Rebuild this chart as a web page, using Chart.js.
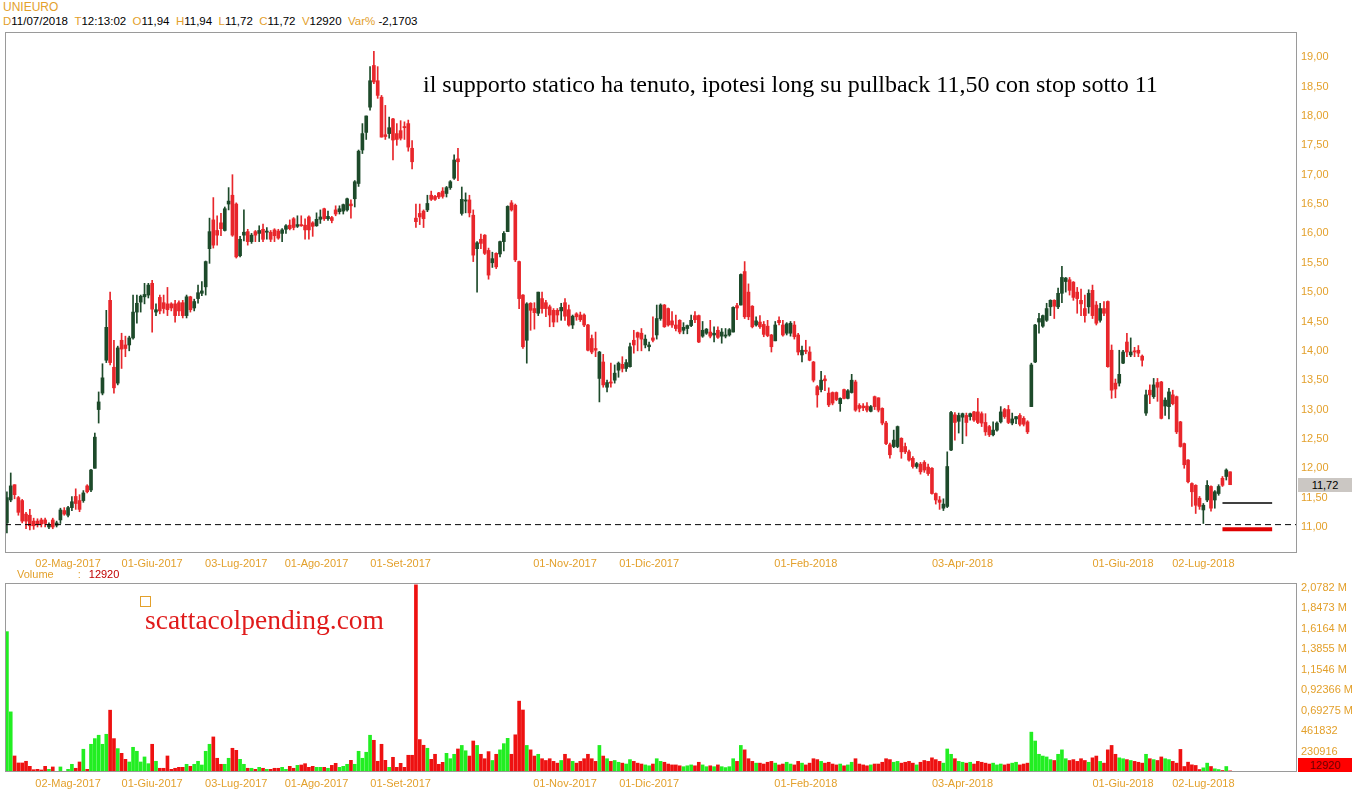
<!DOCTYPE html>
<html>
<head>
<meta charset="utf-8">
<script src="https://cdn.jsdelivr.net/npm/chart.js@4.4.1/dist/chart.umd.min.js"></script>
<style>
  body { margin: 0; background: #fff; width: 1352px; height: 800px; overflow: hidden; position: relative; font-family: Arial, "Liberation Sans", sans-serif; }
  canvas { position: absolute; left: 0; }
  .lbl { position: absolute; white-space: nowrap; }
  .or { color: #e3a02b; }
  .bk { color: #000; }
</style>
</head>
<body>
<div class="lbl or" style="left:3px;top:0px;font-size:12px;">UNIEURO</div>
<div class="lbl" style="left:3px;top:15px;font-size:11.5px;">
  <span class="or">D</span><span class="bk">11/07/2018</span>&nbsp;&nbsp;<span class="or">T</span><span class="bk">12:13:02</span>&nbsp;&nbsp;<span class="or">O</span><span class="bk">11,94</span>&nbsp;&nbsp;<span class="or">H</span><span class="bk">11,94</span>&nbsp;&nbsp;<span class="or">L</span><span class="bk">11,72</span>&nbsp;&nbsp;<span class="or">C</span><span class="bk">11,72</span>&nbsp;&nbsp;<span class="or">V</span><span class="bk">12920</span>&nbsp;&nbsp;<span class="or">Var%</span>&nbsp;<span class="bk">-2,1703</span>
</div>

<canvas id="priceChart" width="1352" height="540" style="top:32px"></canvas>
<canvas id="volChart" width="1352" height="216" style="top:578px"></canvas>

<div class="lbl" style="left:423px;top:71px;font-family:'Liberation Serif','Times New Roman',serif;font-size:24px;color:#000;">il supporto statico ha tenuto, ipotesi long su pullback 11,50 con stop sotto 11</div>
<div class="lbl" style="left:17px;top:568px;font-size:11px;"><span class="or">Volume</span><span class="or" style="margin-left:24px">:</span><span style="color:#c00000;margin-left:8px">12920</span></div>
<div style="position:absolute;left:140px;top:596px;width:9px;height:9px;border:1px solid #e3a02b;"></div>
<div class="lbl" style="left:145px;top:604px;font-family:'Liberation Serif','Times New Roman',serif;font-size:27.5px;color:#e01b1b;">scattacolpending.com</div>
<div class="lbl" style="left:1298px;top:478px;width:54px;height:14px;background:#cbc7c3;color:#000;font-size:11px;line-height:14px;text-align:center;">11,72</div>
<div class="lbl" style="left:1298px;top:758px;width:54px;height:14px;background:#ff0000;color:#700000;font-size:11px;line-height:14px;text-align:center;">12920</div>

<script>
// daily candles, 5 Apr 2017 .. 11 Jul 2018
const openP = [
  11.07,11.46,11.72,11.50,11.45,11.22,11.20,11.10,11.10,11.12,
  11.12,11.00,11.12,11.03,11.12,11.28,11.20,11.33,11.52,11.45,
  11.45,11.70,11.63,12.00,13.00,13.28,13.84,14.86,13.72,13.45,
  14.18,14.10,14.10,14.22,14.66,14.83,14.92,14.95,15.15,14.66,
  14.91,14.82,14.80,14.80,14.80,14.82,14.82,14.60,14.92,14.73,
  14.89,14.98,15.09,15.74,16.23,16.05,16.18,16.05,16.50,16.65,
  16.50,15.62,15.97,16.03,15.86,16.03,16.00,16.07,16.02,16.02,
  16.06,16.04,16.00,16.07,16.14,16.25,16.12,16.15,16.14,16.28,
  16.18,16.13,16.24,16.42,16.25,16.27,16.40,16.37,16.38,16.40,
  16.50,16.59,16.85,17.42,17.72,18.15,18.86,18.60,18.32,17.68,
  17.70,17.95,17.70,17.75,17.82,17.87,17.45,16.26,16.34,16.38,
  16.40,16.65,16.63,16.69,16.72,16.68,16.78,16.94,17.27,16.34,
  16.55,16.57,16.31,15.74,15.90,15.97,15.71,15.50,15.66,15.65,
  15.86,16.03,16.52,16.48,15.52,14.95,14.18,14.81,14.72,14.64,
  14.89,14.82,14.75,14.69,14.69,14.68,14.82,14.70,14.44,14.63,
  14.61,14.61,14.44,14.21,14.04,13.53,13.81,13.38,13.47,13.50,
  13.67,13.77,13.70,13.73,14.18,14.31,14.30,14.10,14.07,14.22,
  14.27,14.55,14.78,14.72,14.51,14.44,14.52,14.35,14.38,14.43,
  14.60,14.60,14.25,14.30,14.32,14.27,14.35,14.25,14.25,14.27,
  14.32,14.77,14.78,15.35,15.00,14.76,14.44,14.49,14.45,14.42,
  14.27,14.17,14.52,14.44,14.30,14.30,14.44,14.27,13.93,14.01,
  13.98,13.81,13.39,13.34,13.52,13.28,13.29,13.29,13.10,13.34,
  13.19,13.29,13.47,13.07,13.06,13.06,12.97,13.22,13.20,13.02,
  12.77,12.40,12.37,12.37,12.51,12.37,12.28,12.17,12.03,12.07,
  12.10,12.02,12.00,11.57,11.46,11.32,11.35,12.31,12.91,12.80,
  12.87,12.90,12.88,12.96,12.96,12.93,12.78,12.71,12.57,12.65,
  12.79,13.00,13.00,12.77,12.84,12.90,12.85,12.79,13.05,13.81,
  14.49,14.42,14.52,14.75,14.86,14.75,14.98,15.18,15.21,15.17,
  15.00,14.86,14.72,14.75,15.03,14.78,14.52,14.72,14.84,14.01,
  13.45,13.45,13.79,14.15,13.93,14.00,14.01,13.91,12.94,13.33,
  13.22,13.46,13.47,13.06,13.05,13.25,13.22,12.79,12.42,12.14,
  11.74,11.71,11.49,11.29,11.46,11.69,11.46,11.57,11.83,11.86,
  11.94
];
const highP = [
  11.60,11.92,11.72,11.52,11.47,11.25,11.30,11.15,11.14,11.15,
  11.15,11.07,11.15,11.10,11.32,11.33,11.35,11.52,11.65,11.55,
  11.62,11.72,11.98,12.60,13.30,13.78,14.69,15.00,14.18,14.08,
  14.30,14.25,14.25,14.95,14.95,14.95,15.15,15.15,15.20,14.80,
  14.95,14.95,15.08,14.82,14.86,14.85,14.86,14.95,14.93,14.88,
  15.12,15.18,15.53,16.26,16.61,16.30,16.34,16.45,16.78,17.00,
  16.52,15.95,16.40,16.07,16.00,16.05,16.13,16.16,16.10,16.05,
  16.08,16.07,16.08,16.15,16.23,16.27,16.30,16.30,16.25,16.30,
  16.20,16.35,16.40,16.43,16.38,16.29,16.47,16.47,16.50,16.60,
  16.57,16.90,17.42,17.87,18.00,18.84,19.10,18.84,18.35,18.18,
  17.98,17.96,17.87,17.92,17.90,17.93,17.58,16.50,16.50,16.40,
  16.65,16.72,16.65,16.70,16.78,16.80,16.90,17.34,17.45,16.79,
  16.69,16.65,16.40,15.86,15.99,15.98,15.75,15.68,15.67,15.87,
  16.03,16.47,16.56,16.50,15.53,14.96,14.82,14.82,14.82,15.00,
  15.00,14.86,14.78,14.72,14.72,14.81,14.89,14.78,14.61,14.65,
  14.66,14.63,14.45,14.27,14.32,13.99,13.94,13.50,13.79,13.76,
  13.81,13.90,13.85,14.13,14.35,14.32,14.38,14.27,14.15,14.58,
  14.78,14.80,14.79,14.73,14.67,14.61,14.53,14.48,14.44,14.61,
  14.67,14.61,14.50,14.38,14.52,14.41,14.41,14.38,14.38,14.38,
  14.75,14.81,15.31,15.52,15.14,14.77,14.58,14.60,14.50,14.52,
  14.28,14.50,14.58,14.52,14.48,14.50,14.50,14.30,14.08,14.18,
  14.07,13.82,13.41,13.65,13.58,13.37,13.30,13.30,13.20,13.35,
  13.34,13.60,13.50,13.10,13.10,13.12,13.07,13.23,13.20,13.03,
  12.80,12.43,12.65,12.72,12.52,12.43,12.31,12.20,12.10,12.10,
  12.13,12.07,12.01,11.58,11.52,11.48,12.28,12.97,12.95,12.94,
  12.94,12.94,12.94,12.97,13.19,12.96,12.93,12.73,12.79,12.79,
  13.05,13.02,13.07,12.94,12.88,12.93,12.88,12.81,13.79,14.45,
  14.64,14.61,14.81,14.87,14.87,15.07,15.44,15.25,15.25,15.18,
  15.08,15.05,14.95,15.04,15.12,14.84,14.81,14.84,14.85,14.10,
  13.52,14.01,14.01,14.30,14.22,14.06,14.09,13.93,13.33,13.42,
  13.53,13.53,13.48,13.20,13.36,13.33,13.23,12.80,12.43,12.15,
  11.75,11.72,11.52,11.40,11.79,11.70,11.62,11.72,11.86,11.99,
  11.94
];
const lowP = [
  10.90,11.43,11.48,11.20,11.07,10.97,10.95,10.96,11.00,11.00,
  11.00,10.97,10.97,11.00,11.06,11.20,11.17,11.28,11.30,11.26,
  11.42,11.58,11.60,12.00,12.77,13.25,13.80,13.76,13.28,13.42,
  13.70,13.90,14.00,14.20,14.47,14.66,14.80,14.90,14.32,14.60,
  14.63,14.64,14.60,14.68,14.49,14.60,14.56,14.56,14.66,14.68,
  14.81,14.94,14.95,15.49,15.75,15.80,15.96,16.04,16.40,15.95,
  15.58,15.60,15.87,15.80,15.83,15.86,15.86,15.86,15.90,15.86,
  15.86,15.90,15.86,16.00,16.06,16.06,16.10,16.12,15.90,15.90,
  15.95,16.12,16.17,16.22,16.22,16.18,16.30,16.33,16.33,16.38,
  16.26,16.45,16.80,17.36,17.60,18.10,18.55,18.30,17.64,17.60,
  17.62,17.25,17.50,17.59,17.60,17.40,17.10,16.10,16.15,16.10,
  16.37,16.56,16.56,16.59,16.60,16.62,16.75,16.92,16.90,16.31,
  16.35,16.28,15.52,15.00,15.74,15.64,15.22,15.42,15.40,15.60,
  15.70,16.03,16.38,15.52,14.72,14.04,13.79,14.35,14.37,14.60,
  14.64,14.58,14.41,14.41,14.49,14.52,14.52,14.42,14.38,14.52,
  14.50,14.41,14.00,13.95,13.90,13.13,13.38,13.30,13.38,13.45,
  13.55,13.64,13.65,13.72,13.96,14.00,14.00,14.05,14.00,14.15,
  14.20,14.52,14.40,14.42,14.40,14.34,14.29,14.29,14.29,14.41,
  14.48,14.14,14.23,14.28,14.22,14.15,14.21,14.13,14.22,14.25,
  14.32,14.53,14.78,14.55,14.53,14.39,14.42,14.38,14.24,14.24,
  13.98,14.17,14.44,14.25,14.27,14.25,14.20,13.93,13.81,13.95,
  13.83,13.47,13.04,13.30,13.32,13.05,13.08,13.15,12.97,13.18,
  13.18,13.28,12.97,12.96,12.98,12.96,12.96,13.00,12.96,12.74,
  12.40,12.17,12.35,12.35,12.17,12.25,12.12,12.00,12.00,11.90,
  11.93,11.88,11.56,11.39,11.30,11.28,11.33,12.30,12.48,12.60,
  12.42,12.55,12.82,12.80,12.76,12.71,12.56,12.54,12.55,12.63,
  12.77,12.85,12.76,12.74,12.76,12.72,12.72,12.59,13.05,13.80,
  14.30,14.40,14.50,14.60,14.55,14.72,14.82,15.00,14.95,14.86,
  14.64,14.60,14.49,14.64,14.55,14.44,14.49,14.60,13.72,13.19,
  13.20,13.40,13.78,13.90,13.90,13.90,13.90,13.74,12.90,13.10,
  13.19,13.14,12.84,12.90,12.84,13.08,12.59,12.36,12.00,11.75,
  11.35,11.23,11.30,11.06,11.43,11.27,11.32,11.54,11.69,11.80,
  11.72
];
const closeP = [
  11.50,11.70,11.55,11.25,11.10,11.10,11.02,11.02,11.05,11.05,
  11.06,11.04,11.00,11.07,11.29,11.22,11.33,11.43,11.40,11.30,
  11.58,11.60,11.97,12.53,13.13,13.54,14.40,13.80,13.37,14.05,
  14.03,14.04,14.22,14.66,14.81,14.93,14.96,15.12,14.71,14.70,
  14.68,14.72,14.70,14.73,14.60,14.68,14.60,14.92,14.70,14.84,
  14.99,15.02,15.52,16.03,15.80,15.97,16.08,16.42,16.55,15.97,
  15.60,15.90,16.02,15.86,15.97,15.97,16.05,15.90,16.04,15.90,
  15.96,15.92,16.06,16.13,16.08,16.10,16.15,16.13,16.06,16.06,
  16.12,16.24,16.28,16.25,16.29,16.22,16.33,16.42,16.49,16.59,
  16.47,16.88,17.40,17.70,18.00,18.60,18.58,18.35,17.64,17.65,
  17.80,17.59,17.60,17.62,17.80,17.47,17.22,16.20,16.28,16.25,
  16.51,16.58,16.58,16.62,16.63,16.78,16.88,17.25,17.22,16.58,
  16.57,16.35,15.63,15.84,15.83,15.66,15.29,15.57,15.43,15.86,
  16.00,16.46,16.40,15.55,14.89,14.07,14.80,14.69,14.65,15.00,
  14.72,14.72,14.61,14.49,14.61,14.74,14.59,14.44,14.59,14.58,
  14.53,14.44,14.01,13.98,14.01,13.98,13.42,13.46,13.45,13.62,
  13.79,13.70,13.80,14.07,14.10,14.23,14.20,14.20,14.10,14.18,
  14.55,14.78,14.41,14.44,14.44,14.38,14.32,14.40,14.43,14.52,
  14.53,14.15,14.35,14.37,14.25,14.30,14.23,14.32,14.27,14.36,
  14.74,14.73,15.30,14.58,14.58,14.41,14.51,14.41,14.28,14.26,
  14.07,14.44,14.48,14.27,14.46,14.47,14.24,13.98,14.01,13.99,
  13.84,13.50,13.25,13.50,13.49,13.08,13.11,13.17,13.19,13.19,
  13.32,13.50,12.99,13.02,13.03,12.99,13.05,13.05,12.99,12.77,
  12.42,12.23,12.48,12.71,12.28,12.28,12.14,12.03,12.08,11.94,
  11.97,11.91,11.57,11.46,11.42,11.39,12.03,12.95,12.78,12.90,
  12.93,12.78,12.93,12.82,12.78,12.77,12.62,12.57,12.65,12.77,
  12.96,12.88,12.78,12.84,12.88,12.75,12.75,12.62,13.76,14.44,
  14.55,14.60,14.72,14.86,14.76,14.98,15.25,15.24,15.03,14.91,
  14.89,14.80,14.60,14.98,14.60,14.47,14.72,14.64,13.73,13.33,
  13.35,13.60,13.98,13.98,13.98,13.98,13.96,13.84,13.25,13.25,
  13.42,13.38,12.85,13.16,13.30,13.10,12.62,12.37,12.06,11.77,
  11.60,11.37,11.35,11.37,11.71,11.32,11.60,11.69,11.71,11.97,
  11.72
];
const volume = [
  1585000,679000,181000,102000,102000,121000,64000,26000,30000,23000,
  64000,30000,57000,8000,57000,8000,30000,87000,42000,113000,
  257000,30000,313000,377000,415000,313000,426000,698000,377000,264000,
  211000,143000,113000,279000,234000,113000,170000,94000,313000,121000,
  42000,42000,181000,30000,42000,53000,53000,87000,64000,87000,
  121000,79000,234000,313000,396000,155000,87000,87000,155000,268000,
  245000,143000,87000,42000,42000,30000,53000,42000,30000,30000,
  42000,42000,53000,30000,64000,42000,75000,79000,94000,53000,
  64000,53000,53000,53000,42000,75000,98000,53000,64000,87000,
  132000,87000,234000,155000,223000,415000,358000,121000,313000,132000,
  53000,166000,53000,98000,53000,189000,189000,2113000,366000,302000,
  268000,143000,200000,87000,109000,211000,150000,200000,260000,300000,
  240000,180000,350000,300000,200000,150000,230000,130000,200000,250000,
  320000,380000,200000,420000,800000,700000,300000,250000,180000,200000,
  150000,130000,150000,120000,100000,130000,200000,150000,120000,100000,
  120000,150000,200000,150000,120000,300000,180000,150000,120000,130000,
  110000,100000,90000,140000,120000,100000,90000,80000,70000,90000,
  150000,120000,110000,90000,80000,80000,70000,60000,70000,80000,
  70000,110000,80000,60000,70000,60000,80000,60000,50000,60000,
  150000,120000,300000,250000,150000,120000,100000,100000,90000,110000,
  120000,100000,80000,90000,110000,90000,80000,120000,100000,80000,
  100000,150000,140000,120000,100000,110000,90000,80000,90000,70000,
  80000,110000,150000,90000,80000,70000,80000,90000,90000,110000,
  150000,140000,110000,120000,100000,110000,120000,100000,80000,110000,
  130000,120000,160000,140000,120000,100000,260000,200000,150000,120000,
  110000,100000,110000,90000,120000,110000,100000,90000,100000,80000,
  90000,80000,90000,100000,110000,80000,90000,100000,450000,350000,
  200000,180000,170000,140000,130000,200000,250000,150000,130000,140000,
  120000,150000,130000,110000,160000,180000,120000,100000,250000,300000,
  200000,160000,150000,140000,130000,120000,110000,100000,200000,150000,
  140000,130000,170000,150000,140000,120000,100000,255000,62000,111000,
  81000,74000,28000,47000,100000,62000,36000,28000,17000,62000,
  12920
];

const priceTicks = [11, 11.5, 12, 12.5, 13, 13.5, 14, 14.5, 15, 15.5, 16, 16.5, 17, 17.5, 18, 18.5, 19];
const volTicks = [230916, 461832, 692748, 923664, 1154580, 1385496, 1616412, 1847328, 2078244];
const volTickLabels = ['230916', '461832', '0,69275 M', '0,92366 M', '1,1546 M', '1,3855 M', '1,6164 M', '1,8473 M', '2,0782 M'];
const tickDates = ['02-Mag-2017', '01-Giu-2017', '03-Lug-2017', '01-Ago-2017', '01-Set-2017', '01-Nov-2017',
                   '01-Dic-2017', '01-Feb-2018', '03-Apr-2018', '01-Giu-2018', '02-Lug-2018'];
const holidays = ['2017-04-14', '2017-04-17', '2017-05-01', '2017-08-15', '2017-12-25', '2017-12-26',
                  '2018-01-01', '2018-03-30', '2018-04-02', '2018-05-01'];

const supportLevel = 11.04;   // dashed line
const entryLevel = 11.41;     // black mark
const stopLevel = 10.96;      // red mark
const markFrom = 318, markTo = 331;

// trading calendar, counted back from the last session
const mesi = ['Gen', 'Feb', 'Mar', 'Apr', 'Mag', 'Giu', 'Lug', 'Ago', 'Set', 'Ott', 'Nov', 'Dic'];
const dates = [];
let d = new Date(Date.UTC(2018, 6, 11));
while (dates.length < closeP.length) {
  const iso = d.toISOString().slice(0, 10);
  const wd = d.getUTCDay();
  if (wd !== 0 && wd !== 6 && holidays.indexOf(iso) < 0) {
    const dd = String(d.getUTCDate()).padStart(2, '0');
    dates.unshift(dd + '-' + mesi[d.getUTCMonth()] + '-' + d.getUTCFullYear());
  }
  d = new Date(d.getTime() - 86400000);
}
const tickIdx = tickDates.map(t => dates.indexOf(t)).filter(i => i >= 0);

const UP = '#1d4a2a', DOWN = '#e8262b';
const VUP = '#22ee22', VDOWN = '#ee1111';
const ORANGE = '#e3a02b';
const xMin = -0.5, xMax = 337.5;

const idx = closeP.map((c, i) => i);
const candleColors = idx.map(i => closeP[i] > openP[i] ? UP : DOWN);
const volColors = idx.map(i => closeP[i] > openP[i] ? VUP : VDOWN);

Chart.defaults.font.family = 'Arial, "Liberation Sans", sans-serif';
Chart.defaults.font.size = 11;
Chart.defaults.animation = false;

const frame = {
  id: 'frame',
  afterDraw(chart) {
    const a = chart.chartArea, c = chart.ctx;
    c.save();
    c.strokeStyle = '#9a9a9a';
    c.lineWidth = 1;
    c.strokeRect(Math.round(a.left) + 0.5, Math.round(a.top) + 0.5, Math.round(a.right - a.left) - 1, Math.round(a.bottom - a.top) - 1);
    c.restore();
  }
};

function xAxis(h, pad) {
  return {
    type: 'linear', min: xMin, max: xMax, offset: false,
    grid: { display: false, drawTicks: false }, border: { display: false },
    afterBuildTicks: s => { s.ticks = tickIdx.map(v => ({ value: v })); },
    afterFit: s => { s.height = h; s.paddingLeft = 0; s.paddingRight = 0; },
    ticks: { autoSkip: false, maxRotation: 0, padding: pad, color: ORANGE, callback: v => dates[v] }
  };
}

new Chart(document.getElementById('priceChart'), {
  type: 'bar',
  data: {
    datasets: [
      { type: 'line', data: [{ x: xMin, y: supportLevel }, { x: xMax, y: supportLevel }], borderColor: '#000', borderWidth: 1, borderDash: [6, 4], pointRadius: 0 },
      { type: 'line', data: [{ x: markFrom, y: entryLevel }, { x: markTo, y: entryLevel }], borderColor: '#000', borderWidth: 1.5, pointRadius: 0 },
      { type: 'line', data: [{ x: markFrom, y: stopLevel }, { x: markTo, y: stopLevel }], borderColor: '#e00000', borderWidth: 4, pointRadius: 0 },
      { data: idx.map(i => ({ x: i, y: [openP[i], closeP[i]] })), backgroundColor: candleColors, barThickness: 3, minBarLength: 1, grouped: false },
      { data: idx.map(i => ({ x: i, y: [lowP[i], highP[i]] })), backgroundColor: candleColors, barThickness: 1, grouped: false }
    ]
  },
  options: {
    responsive: false,
    layout: { padding: { left: 5, top: 0, right: 0, bottom: 0 } },
    plugins: { legend: { display: false }, tooltip: { enabled: false } },
    scales: {
      x: xAxis(19, 4),
      y: {
        position: 'right', min: 10.557, max: 19.43,
        grid: { display: false, drawTicks: false }, border: { display: false },
        afterBuildTicks: s => { s.ticks = priceTicks.map(v => ({ value: v })); },
        afterFit: s => { s.width = 55; s.paddingTop = 0; s.paddingBottom = 0; },
        ticks: { padding: 4, color: ORANGE, callback: v => v.toFixed(2).replace('.', ',') }
      }
    }
  },
  plugins: [frame]
});

new Chart(document.getElementById('volChart'), {
  type: 'bar',
  data: {
    datasets: [
      { data: idx.map(i => ({ x: i, y: volume[i] })), backgroundColor: volColors, barThickness: 3 }
    ]
  },
  options: {
    responsive: false,
    layout: { padding: { left: 5, top: 5, right: 0, bottom: 0 } },
    plugins: { legend: { display: false }, tooltip: { enabled: false } },
    scales: {
      x: xAxis(22, 5),
      y: {
        position: 'right', min: 0, max: 2134000,
        grid: { display: false, drawTicks: false }, border: { display: false },
        afterBuildTicks: s => { s.ticks = volTicks.map(v => ({ value: v })); },
        afterFit: s => { s.width = 55; s.paddingTop = 0; s.paddingBottom = 0; },
        ticks: { padding: 4, color: ORANGE, callback: (v, i) => volTickLabels[i] }
      }
    }
  },
  plugins: [frame]
});
</script>
</body>
</html>
